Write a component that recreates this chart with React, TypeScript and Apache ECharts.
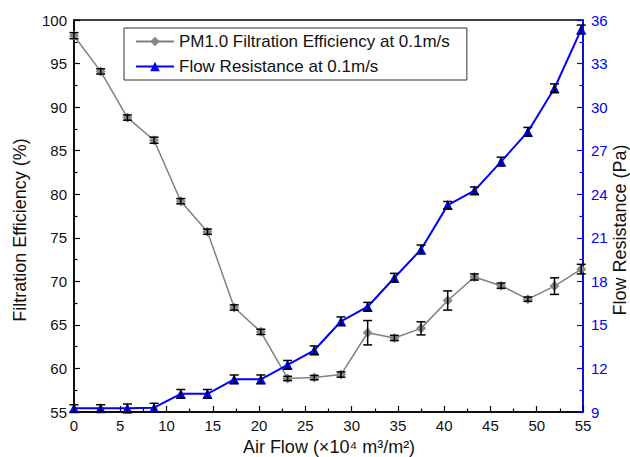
import React, { useEffect, useRef } from "react";
import * as echarts from "echarts";

const airFlow = [0, 2.88, 5.77, 8.65, 11.54, 14.42, 17.31, 20.19, 23.08, 25.96, 28.85, 31.73, 34.62, 37.5, 40.38, 43.27, 46.15, 49.04, 51.92, 54.81];
const efficiency = [98.2, 94.1, 88.8, 86.2, 79.2, 75.7, 67.0, 64.2, 58.85, 58.95, 59.3, 64.1, 63.5, 64.6, 67.8, 70.5, 69.5, 67.95, 69.45, 71.4];
const efficiencyErr = [0.35, 0.3, 0.3, 0.35, 0.3, 0.3, 0.3, 0.3, 0.25, 0.25, 0.3, 1.4, 0.3, 0.75, 1.1, 0.35, 0.3, 0.25, 0.95, 0.55];
const resistance = [9.25, 9.25, 9.25, 9.3, 10.25, 10.25, 11.25, 11.25, 12.25, 13.25, 15.25, 16.25, 18.25, 20.2, 23.25, 24.25, 26.25, 28.3, 31.3, 35.35];
const resistanceErr = [0.25, 0.25, 0.3, 0.3, 0.3, 0.3, 0.3, 0.3, 0.3, 0.3, 0.3, 0.3, 0.3, 0.3, 0.25, 0.25, 0.3, 0.3, 0.3, 0.3];

const xTitle = "Air Flow (×10⁴ m³/m²)";
const yLeftTitle = "Filtration Efficiency (%)";
const yRightTitle = "Flow Resistance (Pa)";

const FONT = "'Liberation Sans', Arial, sans-serif";

function errorRender(params: any, api: any) {
  const x = api.value(0);
  const lo = api.coord([x, api.value(1)]);
  const hi = api.coord([x, api.value(2)]);
  const w = 4.5;
  const style = { stroke: "#000", lineWidth: 1.5 };
  return {
    type: "group",
    children: [
      { type: "line", shape: { x1: lo[0], y1: lo[1], x2: hi[0], y2: hi[1] }, style },
      { type: "line", shape: { x1: lo[0] - w, y1: lo[1], x2: lo[0] + w, y2: lo[1] }, style },
      { type: "line", shape: { x1: hi[0] - w, y1: hi[1], x2: hi[0] + w, y2: hi[1] }, style },
    ],
  };
}

export default function App() {
  const ref = useRef<HTMLDivElement>(null);
  useEffect(() => {
    if (!ref.current) return;
    const chart = echarts.init(ref.current, undefined, { renderer: "svg" });
    const effData = airFlow.map((x, i) => [x, efficiency[i]]);
    const resData = airFlow.map((x, i) => [x, resistance[i]]);
    const effErr = airFlow.map((x, i) => [x, efficiency[i] - efficiencyErr[i], efficiency[i] + efficiencyErr[i]]);
    const resErr = airFlow.map((x, i) => [x, resistance[i] - resistanceErr[i], resistance[i] + resistanceErr[i]]);
    const titleStyle = { fontSize: 18, fontFamily: FONT, fill: "#111", align: "center", verticalAlign: "middle" };
    chart.setOption({
      animation: false,
      backgroundColor: "#fff",
      textStyle: { fontFamily: FONT },
      grid: {
        left: 74, right: 47, top: 20, bottom: 45,
        outerBoundsMode: "none",
        containLabel: false,
        show: true, borderColor: "#000", borderWidth: 1.5, backgroundColor: "transparent",
      },
      graphic: [
        { type: "text", x: 329, y: 447, style: { ...titleStyle, text: xTitle } },
        { type: "text", x: 20, y: 230, rotation: Math.PI / 2, style: { ...titleStyle, text: yLeftTitle } },
        { type: "text", x: 620, y: 230, rotation: Math.PI / 2, style: { ...titleStyle, text: yRightTitle } },
      ],
      legend: {
        orient: "vertical",
        left: 124, top: 28,
        padding: [5, 17, 5, 11],
        itemWidth: 38, itemHeight: 12, itemGap: 8,
        borderColor: "#333", borderWidth: 1,
        textStyle: { fontSize: 17, color: "#111", fontFamily: FONT },
        data: ["PM1.0 Filtration Efficiency at 0.1m/s", "Flow Resistance at 0.1m/s"],
      },
      xAxis: {
        type: "value", min: 0, max: 55, interval: 5,
        axisLine: { lineStyle: { color: "#000", width: 1.5 } },
        axisTick: { inside: true, length: 6, lineStyle: { color: "#000", width: 1.2 } },
        minorTick: { show: true, splitNumber: 2, length: 3.5, lineStyle: { color: "#000", width: 1.2 } },
        axisLabel: { fontSize: 15, color: "#111", margin: 6, fontFamily: FONT },
        splitLine: { show: false },
      },
      yAxis: [
        {
          type: "value", min: 55, max: 100, interval: 5, position: "left",
          axisLine: { show: true, lineStyle: { color: "#000", width: 1.5 } },
          axisTick: { inside: true, length: 6, lineStyle: { color: "#000", width: 1.2 } },
          minorTick: { show: true, splitNumber: 2, length: 3.5, lineStyle: { color: "#000", width: 1.2 } },
          axisLabel: { fontSize: 15, color: "#111", margin: 7, fontFamily: FONT },
          splitLine: { show: false },
        },
        {
          type: "value", min: 9, max: 36, interval: 3, position: "right",
          axisLine: { show: true, lineStyle: { color: "#0000ff", width: 1.5 } },
          axisTick: { inside: true, length: 6, lineStyle: { color: "#0000ff", width: 1.2 } },
          minorTick: { show: true, splitNumber: 2, length: 3.5, lineStyle: { color: "#0000ff", width: 1.2 } },
          axisLabel: { fontSize: 15, color: "#0000ff", margin: 8, fontFamily: FONT },
          splitLine: { show: false },
        },
      ],
      series: [
        {
          name: "PM1.0 Filtration Efficiency at 0.1m/s",
          type: "line", yAxisIndex: 0, data: effData,
          symbol: "diamond", symbolSize: 10,
          lineStyle: { color: "#808080", width: 1.5 },
          itemStyle: { color: "#888888" },
          z: 2,
        },
        {
          name: "Flow Resistance at 0.1m/s",
          type: "line", yAxisIndex: 1, data: resData,
          symbol: "triangle", symbolSize: 10,
          lineStyle: { color: "#0000ff", width: 2 },
          itemStyle: { color: "#0000ff" },
          z: 2,
        },
        {
          type: "custom", yAxisIndex: 0, data: effErr,
          encode: { x: 0, y: [1, 2] },
          renderItem: errorRender, z: 4, silent: true,
        },
        {
          type: "custom", yAxisIndex: 1, data: resErr,
          encode: { x: 0, y: [1, 2] },
          renderItem: errorRender, z: 4, silent: true,
        },
      ],
    });
    return () => chart.dispose();
  }, []);
  return (
    <div
      ref={ref}
      style={{ position: "fixed", left: 0, top: 0, width: 630, height: 457, background: "#fff" }}
    />
  );
}
